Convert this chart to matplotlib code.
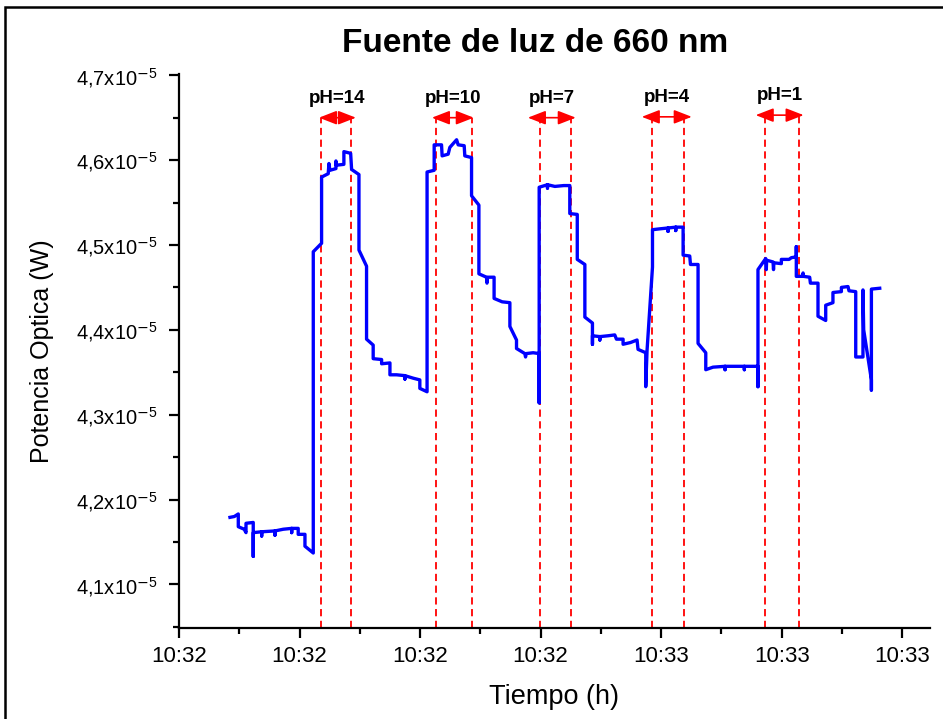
import matplotlib
matplotlib.use("Agg")
import matplotlib.pyplot as plt
from matplotlib.patches import Rectangle
from matplotlib.ticker import FixedLocator, MultipleLocator, FuncFormatter

plt.rcParams['font.family'] = ['Liberation Sans', 'DejaVu Sans']
plt.rcParams['mathtext.fontset'] = 'custom'
plt.rcParams['mathtext.rm'] = 'Liberation Sans'
plt.rcParams['mathtext.it'] = 'Liberation Sans:italic'
plt.rcParams['mathtext.bf'] = 'Liberation Sans:bold'

# time in seconds from the first tick, power in units of 1e-5 W
time_s = [4.23, 4.59, 4.92, 4.92, 5.41, 5.56, 5.56, 6.16, 6.16, 6.16, 6.86, 6.86, 6.86,
          7.96, 7.96, 7.96, 8.65, 9.35, 9.35, 9.35, 9.89, 9.89, 10.45, 10.45, 11.14,
          11.14, 11.83, 11.83, 12.38, 12.44, 12.52, 13.02, 13.02, 13.05, 13.68, 13.68,
          14.24, 14.32, 14.93, 14.93, 15.56, 15.56, 16.11, 16.11, 16.81, 16.81, 17.50,
          17.50, 18.05, 18.74, 18.74, 18.74, 19.43, 19.98, 19.98, 20.58,
          20.58, 21.17, 21.17, 21.78, 21.83, 22.33, 22.47, 23.03, 23.16, 23.66, 23.71,
          24.27, 24.27, 24.88, 24.88, 25.51, 25.55, 25.60, 26.14, 26.14, 26.81, 27.45,
          27.45, 28.00, 28.00, 28.69, 28.75, 28.80, 29.38, 29.88, 29.88,
          29.88, 30.57, 30.57, 30.57, 31.18, 31.92, 32.42, 32.42, 33.04, 33.04, 33.67,
          33.67, 34.30, 34.30, 34.30, 34.91, 34.91, 34.91, 35.60, 36.15, 36.29, 36.84,
          36.84, 37.45, 38.00, 38.08, 38.72, 38.72, 38.83, 39.28, 39.28,
          39.88, 40.57, 40.57, 40.57, 41.21, 41.21, 41.21, 41.82, 41.82, 42.37, 42.43,
          43.06, 43.06, 43.70, 43.70, 44.30, 45.30, 45.30, 45.30, 46.30, 46.90, 46.90,
          46.90, 48.03, 48.03, 48.03,
          48.67, 48.72, 48.75, 49.28, 49.32, 49.35, 49.97, 49.97, 50.61, 50.80, 51.21,
          51.21, 51.21, 51.77, 51.77, 51.80, 52.32, 52.38, 53.01, 53.01, 53.65, 53.65,
          54.25, 54.25, 54.95, 54.95, 55.50, 55.58, 56.14, 56.14, 56.74, 56.74, 56.80,
          57.44, 57.44, 57.44, 58.13]
power = [4.179, 4.180, 4.183, 4.168, 4.165, 4.161, 4.172, 4.173, 4.133, 4.161, 4.162, 4.157, 4.162,
         4.163, 4.158, 4.163, 4.165, 4.166, 4.161, 4.166, 4.166, 4.159, 4.159, 4.145, 4.137,
         4.492, 4.502, 4.580, 4.584, 4.596, 4.588, 4.590, 4.599, 4.594, 4.595, 4.610,
         4.608, 4.589, 4.583, 4.494, 4.475, 4.389, 4.382, 4.366, 4.365, 4.360, 4.361,
         4.347, 4.347, 4.346, 4.342, 4.346, 4.343, 4.341, 4.331, 4.327,
         4.586, 4.588, 4.618, 4.618, 4.605, 4.607, 4.615, 4.624, 4.618, 4.617, 4.605,
         4.603, 4.558, 4.547, 4.466, 4.462, 4.455, 4.462, 4.462, 4.437, 4.433, 4.432,
         4.404, 4.388, 4.378, 4.372, 4.368, 4.372, 4.373, 4.372, 4.314,
         4.568, 4.571, 4.567, 4.571, 4.569, 4.570, 4.570, 4.537, 4.536, 4.483, 4.477,
         4.415, 4.408, 4.383, 4.393, 4.392, 4.388, 4.392, 4.393, 4.394, 4.389, 4.389,
         4.383, 4.385, 4.388, 4.377, 4.373, 4.333, 4.376, 4.474, 4.518,
         4.519, 4.520, 4.516, 4.520, 4.521, 4.517, 4.521, 4.521, 4.488, 4.487, 4.477,
         4.477, 4.384, 4.373, 4.353, 4.356, 4.357, 4.353, 4.357, 4.357, 4.357, 4.353,
         4.357, 4.357, 4.333, 4.471,
         4.484, 4.471, 4.482, 4.480, 4.471, 4.479, 4.478, 4.483, 4.483, 4.485, 4.486,
         4.498, 4.463, 4.463, 4.467, 4.463, 4.462, 4.455, 4.455, 4.416, 4.411, 4.429,
         4.432, 4.444, 4.445, 4.450, 4.451, 4.446, 4.445, 4.368, 4.368, 4.447, 4.400,
         4.341, 4.329, 4.448, 4.449]

# pH windows
ph_labels = ['pH=14', 'pH=10', 'pH=7', 'pH=4', 'pH=1']
win_start = [11.77, 21.31, 29.93, 39.22, 48.59]
win_end = [14.26, 24.30, 32.50, 41.87, 51.41]
arrow_left = [11.61, 20.98, 28.94, 38.39, 47.84]
arrow_right = [14.68, 24.46, 32.92, 42.54, 51.82]
arrow_level = [4.650, 4.650, 4.650, 4.651, 4.653]

x_ticks = [0, 10, 20, 30, 40, 50, 60]
x_ticklabels = ['10:32', '10:32', '10:32', '10:32', '10:33', '10:33', '10:33']
y_ticks = [4.1, 4.2, 4.3, 4.4, 4.5, 4.6, 4.7]

fig = plt.figure(figsize=(9.43, 7.19), dpi=100)
ax = fig.add_axes([0.1898, 0.1262, 0.7964, 0.7709])

ax.plot(time_s, power, color='#0000FF', lw=2.4, zorder=3)

for i in range(len(ph_labels)):
    for xv in (win_start[i], win_end[i]):
        ax.plot([xv, xv], [4.0483, arrow_level[i]], color='#FF0000', lw=1.3,
                linestyle=(0, (4, 2.5)), zorder=2)
    ax.annotate('', xy=(arrow_right[i], arrow_level[i]), xytext=(arrow_left[i], arrow_level[i]),
                arrowprops=dict(arrowstyle='<|-|>,head_length=0.9,head_width=0.35',
                                color='#FF0000', lw=1.2, shrinkA=0, shrinkB=0,
                                mutation_scale=12))
    ax.annotate(ph_labels[i], xy=((arrow_left[i] + arrow_right[i]) / 2, arrow_level[i]),
                xytext=(0, 14), textcoords='offset points', ha='center', va='center',
                fontsize=13.5, fontweight='bold')

ax.set_xlim(0, 62.3)
ax.set_ylim(4.0483, 4.7015)

ax.xaxis.set_major_locator(FixedLocator(x_ticks))
ax.set_xticklabels(x_ticklabels)
ax.xaxis.set_minor_locator(MultipleLocator(5))
ax.yaxis.set_major_locator(FixedLocator(y_ticks))
ax.yaxis.set_minor_locator(MultipleLocator(0.05))
ax.yaxis.set_major_formatter(FuncFormatter(
    lambda v, p: ('%.1f' % v).replace('.', ',') + 'x10$^{\\mathsf{-}5}$'))

for side in ('top', 'right'):
    ax.spines[side].set_visible(False)
for side in ('left', 'bottom'):
    ax.spines[side].set_linewidth(1.6)

ax.tick_params(axis='both', which='major', direction='out', length=7, width=1.6)
ax.tick_params(axis='both', which='minor', direction='out', length=4, width=1.6)
ax.tick_params(axis='x', labelsize=16, pad=6)
ax.tick_params(axis='y', labelsize=14.5, pad=8)

ax.set_xlabel('Tiempo (h)', fontsize=19.5, labelpad=12)
ax.set_ylabel('Potencia Optica (W)', fontsize=18, labelpad=16)
ax.set_title('Fuente de luz de 660 nm', fontsize=24, fontweight='bold', pad=16,
             x=(535 - 179) / 751)

fig.patches.append(Rectangle((5 / 943, -0.1), 1.2, 0.1 + 712 / 719, transform=fig.transFigure,
                             fill=False, edgecolor='black', lw=1.8))

fig.savefig('out.png', dpi=100)
